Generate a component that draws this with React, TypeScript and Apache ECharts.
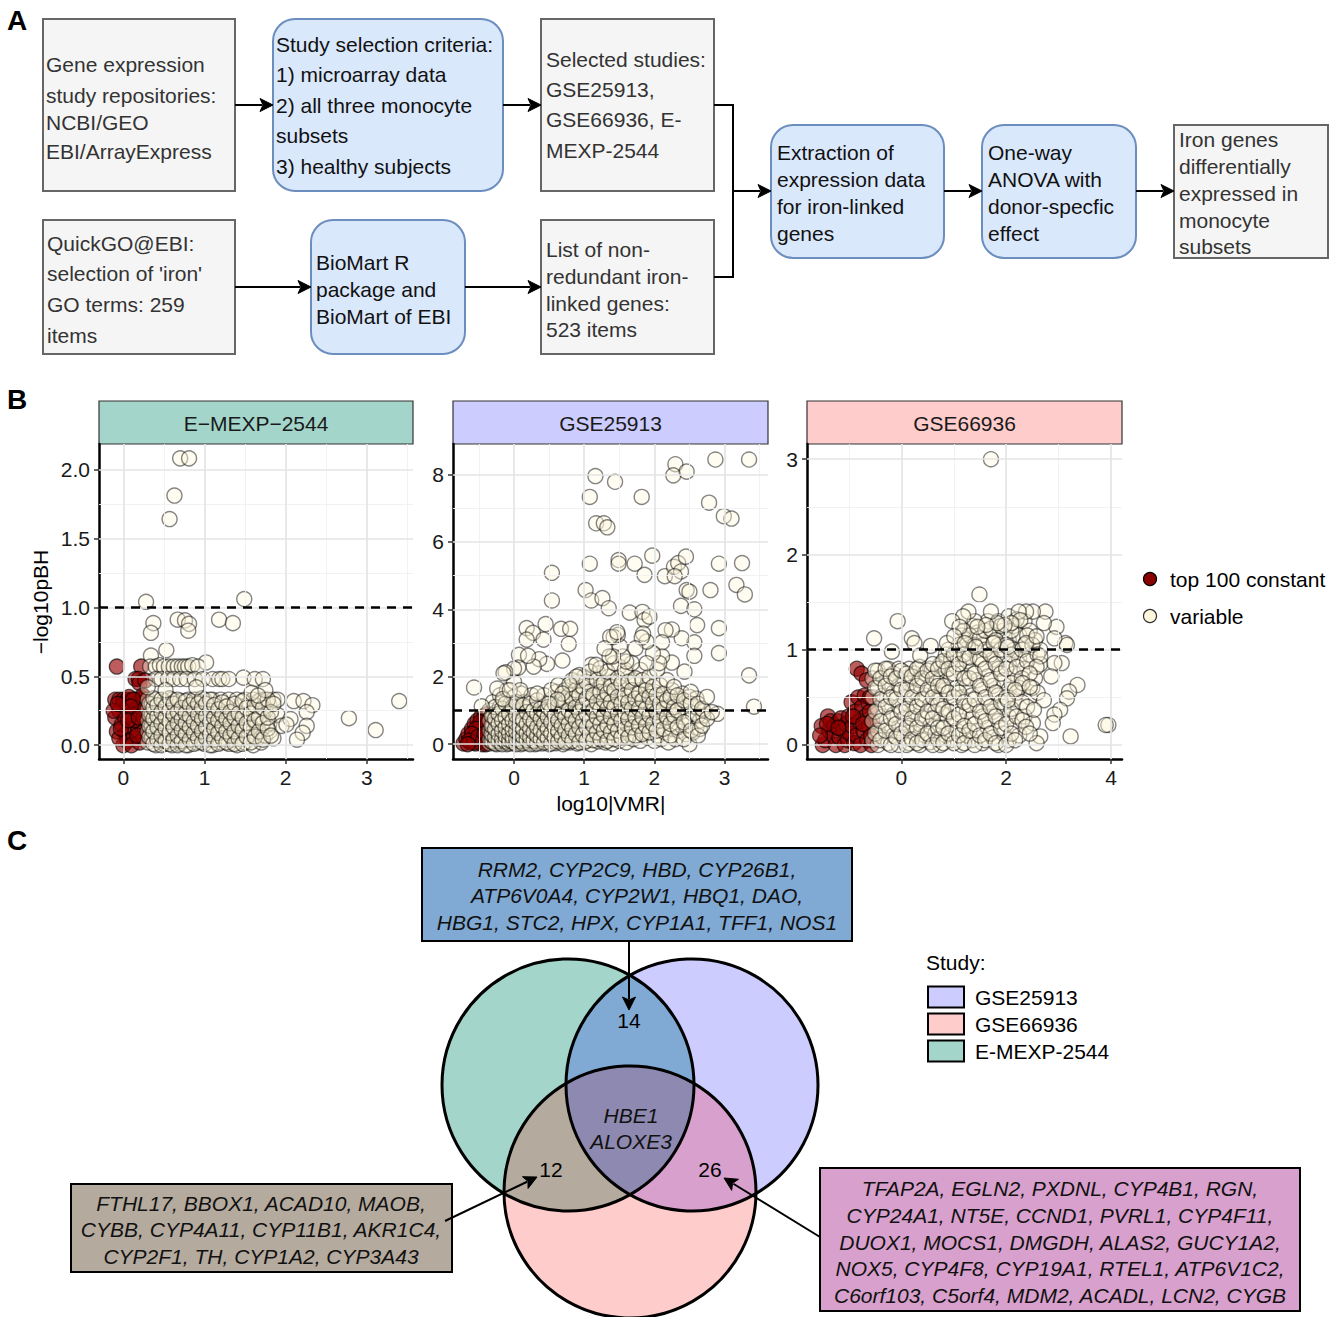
import React, { useEffect, useRef } from "react";
import * as echarts from "echarts";

const FONT = '"Liberation Sans", Arial, Helvetica, sans-serif';
const FS = 21;

// ---------------- Panel B data ----------------
// E-MEXP-2544
const emexpConstant: number[][] = [
  [-0.08, 0.57], [0.22, 0.57], [0.15, 0.48], [0.19, 0.48], [0.2, 0.45], [0.27, 0.47],
  [-0.1, 0.33], [-0.05, 0.33], [0, 0.33], [0.05, 0.33], [0.1, 0.33], [0.15, 0.33], [0.2, 0.33], [0.24, 0.34],
  [-0.1, 0.2], [-0.05, 0.25], [0, 0.3], [0.05, 0.27], [0.1, 0.22], [0.15, 0.3], [0.2, 0.25],
  [-0.08, 0.1], [-0.02, 0.15], [0.03, 0.08], [0.08, 0.12], [0.12, 0.05], [0.18, 0.1], [0.22, 0.15],
  [0.0, 0.0], [0.05, 0.03], [0.1, 0.0], [0.2, 0.02], [0.25, 0.05], [-0.05, 0.05], [0.14, 0.18],
  [0.23, 0.3], [0.07, 0.35], [0.24, 0.36], [0.02, 0.2], [0.17, 0.07], [0.25, 0.2], [-0.12, 0.25],
  [0.12, 0.33], [0.09, 0.28], [-0.03, 0.12], [0.06, 0.18], [0.19, 0.2], [-0.07, 0.3],
];
const emexpVariableCols: [number, number[]][] = [
  [0.3, [0.02, 0.1, 0.18, 0.26, 0.33]], [0.35, [0.05, 0.14, 0.22, 0.3]],
  [0.4, [0.0, 0.08, 0.17, 0.25, 0.33]], [0.45, [0.03, 0.12, 0.2, 0.28]],
  [0.5, [0.01, 0.09, 0.16, 0.24, 0.32]], [0.55, [0.05, 0.13, 0.21, 0.3]],
  [0.6, [0.0, 0.08, 0.18, 0.26, 0.33]], [0.65, [0.03, 0.11, 0.2, 0.28]],
  [0.7, [0.01, 0.07, 0.15, 0.23, 0.32]], [0.75, [0.04, 0.12, 0.19, 0.27]],
  [0.8, [0.0, 0.09, 0.17, 0.25, 0.33]], [0.85, [0.05, 0.13, 0.22, 0.3]],
  [0.9, [0.02, 0.1, 0.18, 0.27, 0.33]], [0.95, [0.06, 0.14, 0.23, 0.31]],
  [1.0, [0.01, 0.09, 0.17, 0.26, 0.33]], [1.05, [0.04, 0.12, 0.2, 0.29]],
  [1.1, [0.0, 0.08, 0.16, 0.25, 0.33]], [1.15, [0.05, 0.13, 0.22, 0.3]],
  [1.2, [0.02, 0.1, 0.19, 0.27, 0.33]], [1.25, [0.06, 0.15, 0.24]],
  [1.3, [0.01, 0.11, 0.2, 0.29, 0.33]], [1.35, [0.04, 0.14, 0.25]],
  [1.4, [0.0, 0.09, 0.18, 0.33]], [1.45, [0.06, 0.16, 0.28]],
  [1.5, [0.02, 0.12, 0.22, 0.33]], [1.55, [0.08, 0.19, 0.3]],
  [1.6, [0.0, 0.1, 0.24, 0.33]], [1.65, [0.05, 0.15, 0.28]],
  [1.7, [0.02, 0.12, 0.21, 0.33]], [1.75, [0.07, 0.25, 0.33]],
  [1.8, [0.1, 0.16, 0.29]], [1.85, [0.05, 0.33]], [1.9, [0.22, 0.33]], [1.95, [0.14]],
];
const emexpVariableCols2: [number, number[]][] = [
  [0.32, [0.06, 0.14, 0.22, 0.3]], [0.37, [0.01, 0.1, 0.19, 0.27, 0.34]], [0.42, [0.04, 0.13, 0.21, 0.29]],
  [0.47, [0.0, 0.07, 0.16, 0.24, 0.33]], [0.52, [0.03, 0.12, 0.2, 0.28]], [0.57, [0.01, 0.09, 0.17, 0.25, 0.34]],
  [0.62, [0.04, 0.13, 0.22, 0.3]], [0.67, [0.0, 0.07, 0.16, 0.24, 0.33]], [0.72, [0.03, 0.11, 0.19, 0.27]],
  [0.77, [0.0, 0.08, 0.16, 0.23, 0.32]], [0.82, [0.04, 0.13, 0.21, 0.29]], [0.87, [0.01, 0.09, 0.17, 0.26, 0.33]],
  [0.92, [0.05, 0.14, 0.22, 0.3]], [0.97, [0.02, 0.1, 0.19, 0.27, 0.34]], [1.02, [0.05, 0.13, 0.21, 0.3]],
  [1.07, [0.0, 0.08, 0.17, 0.25, 0.33]], [1.12, [0.04, 0.12, 0.2, 0.29]], [1.17, [0.01, 0.09, 0.18, 0.26]],
  [1.22, [0.05, 0.14, 0.22, 0.31]], [1.27, [0.02, 0.1, 0.19, 0.28]], [1.32, [0.07, 0.16, 0.24]],
  [1.37, [0.01, 0.1, 0.2, 0.3]], [1.42, [0.05, 0.14, 0.23]], [1.47, [0.01, 0.11, 0.2, 0.32]],
  [1.52, [0.06, 0.16, 0.27]], [1.57, [0.02, 0.13, 0.23]], [1.62, [0.06, 0.18, 0.29]],
  [1.67, [0.1, 0.2, 0.32]], [1.72, [0.04, 0.16, 0.27]], [1.78, [0.12, 0.2, 0.33]], [1.82, [0.07, 0.24]],
];
const emexpVariableExtra: number[][] = [
  [0.7, 2.08], [0.81, 2.08], [0.63, 1.81], [0.57, 1.64], [0.28, 1.04], [1.49, 1.06],
  [0.37, 0.885], [0.34, 0.815], [0.67, 0.91], [0.76, 0.905], [0.81, 0.88], [0.8, 0.83],
  [1.18, 0.91], [1.35, 0.885], [0.34, 0.65], [0.53, 0.69], [1.02, 0.6],
  [2.78, 0.196], [3.11, 0.11], [3.4, 0.32], [2.1, 0.32], [2.22, 0.32], [2.33, 0.29],
  [2.26, 0.24], [2.06, 0.19], [2.01, 0.15], [2.26, 0.14], [2.21, 0.09], [2.14, 0.04],
  [0.33, 0.57], [0.4, 0.57], [0.45, 0.58], [0.5, 0.57], [0.56, 0.57], [0.62, 0.57],
  [0.67, 0.57], [0.72, 0.57], [0.76, 0.57], [0.8, 0.57], [0.85, 0.58], [0.92, 0.57],
  [0.4, 0.48], [0.47, 0.48], [0.55, 0.48], [0.62, 0.48], [0.7, 0.48], [0.78, 0.48],
  [0.88, 0.48], [0.98, 0.48], [1.1, 0.48], [1.18, 0.48], [1.22, 0.48], [1.3, 0.48],
  [1.48, 0.49], [1.62, 0.48], [1.72, 0.48],
  [0.3, 0.42], [0.52, 0.4], [0.9, 0.42], [1.58, 0.38], [1.75, 0.4], [1.66, 0.36], [1.85, 0.3],
];

// GSE25913
const gse25913Constant: number[][] = [
  [-0.72, 0.02], [-0.68, 0.15], [-0.65, 0.3], [-0.62, 0.05], [-0.6, 0.45], [-0.58, 0.2],
  [-0.56, 0.6], [-0.55, 0.02], [-0.53, 0.35], [-0.52, 0.7], [-0.5, 0.1], [-0.49, 0.5],
  [-0.47, 0.8], [-0.46, 0.25], [-0.45, 0.0], [-0.44, 0.62], [-0.43, 0.4], [-0.42, 0.85],
  [-0.41, 0.15], [-0.4, 0.7], [-0.39, 0.05], [-0.39, 0.5], [-0.38, 0.9], [-0.37, 0.3],
  [-0.48, 0.65], [-0.54, 0.45], [-0.6, 0.3], [-0.64, 0.1], [-0.57, 0.05], [-0.51, 0.22],
  [-0.44, 0.12], [-0.42, 0.32], [-0.38, 0.62], [-0.4, 0.0], [-0.66, 0.0],
];
const gse25913VariableCols: [number, number[]][] = [
  [-0.35, [0.02, 0.15, 0.4, 0.7, 1.0]], [-0.3, [0.05, 0.25, 0.55, 0.85, 1.25]],
  [-0.25, [0.0, 0.12, 0.35, 0.6, 0.95]], [-0.2, [0.03, 0.2, 0.45, 0.75, 1.1, 1.45]],
  [-0.15, [0.08, 0.28, 0.55, 0.9, 1.3]], [-0.1, [0.0, 0.15, 0.38, 0.65, 1.0, 1.6]],
  [-0.05, [0.05, 0.22, 0.48, 0.8, 1.2]], [0.0, [0.02, 0.12, 0.32, 0.58, 0.95, 1.4, 1.85]],
  [0.05, [0.06, 0.25, 0.45, 0.72, 1.1]], [0.1, [0.0, 0.15, 0.38, 0.62, 1.0, 1.5]],
  [0.15, [0.08, 0.28, 0.52, 0.85, 1.25]], [0.2, [0.03, 0.18, 0.4, 0.7, 1.1]],
  [0.25, [0.1, 0.3, 0.58, 0.95, 1.45]], [0.3, [0.0, 0.2, 0.45, 0.8]],
  [0.35, [0.08, 0.32, 0.65, 1.1]], [0.4, [0.02, 0.22, 0.5, 0.85]],
  [0.45, [0.12, 0.38, 0.7, 1.2]], [0.5, [0.0, 0.25, 0.55, 0.9]],
  [0.55, [0.1, 0.4, 0.75, 1.35]], [0.6, [0.03, 0.28, 0.6, 1.0, 1.55]],
  [0.65, [0.15, 0.45, 0.8]], [0.7, [0.0, 0.3, 0.65, 1.1, 1.4]],
  [0.75, [0.1, 0.5, 0.9, 1.25]], [0.8, [0.05, 0.35, 0.75, 1.2, 1.7]],
  [0.85, [0.2, 0.55, 0.95, 1.5]], [0.9, [0.02, 0.4, 0.8, 1.3, 1.85]],
  [0.95, [0.15, 0.6, 1.05]], [1.0, [0.05, 0.35, 0.75, 1.2, 1.6, 2.0]],
  [1.05, [0.2, 0.55, 0.95, 1.4]], [1.1, [0.0, 0.4, 0.85, 1.3, 1.8, 2.35]],
  [1.15, [0.25, 0.65, 1.1, 1.6]], [1.2, [0.08, 0.5, 0.95, 1.45, 2.1]],
  [1.25, [0.3, 0.75, 1.25, 1.75]], [1.3, [0.05, 0.45, 0.9, 1.55]],
  [1.35, [0.2, 0.65, 1.15, 2.0]], [1.4, [0.02, 0.5, 1.0, 1.4, 1.85]],
  [1.45, [0.3, 0.8, 1.25]], [1.5, [0.1, 0.55, 1.05, 1.7, 2.3]],
  [1.55, [0.35, 0.85, 1.35]], [1.6, [0.05, 0.6, 1.15, 1.6, 2.1]],
  [1.65, [0.3, 0.9, 1.45]], [1.7, [0.15, 0.7, 1.25, 1.9]],
  [1.75, [0.45, 1.0]], [1.8, [0.1, 0.6, 1.1, 1.6, 2.2]],
  [1.85, [0.35, 0.85, 1.35]], [1.9, [0.2, 0.7, 1.2, 1.75]],
  [1.95, [0.5, 1.0, 1.5]], [2.0, [0.1, 0.65, 1.1, 1.55]],
  [2.05, [0.25, 0.8, 1.3]], [2.1, [0.15, 0.55, 1.0, 1.45]],
  [2.15, [0.35, 0.9, 1.25]], [2.2, [0.05, 0.7, 1.1]],
  [2.25, [0.45, 0.95, 1.6]], [2.3, [0.15, 0.65, 1.2]],
  [2.35, [0.4, 0.9, 1.35]], [2.4, [0.8, 1.1, 1.5]],
  [2.45, [0.3, 0.55, 1.25]], [2.5, [0.0, 0.7, 1.4]],
  [2.55, [0.35, 0.9]], [2.6, [0.5, 1.1, 1.35]], [2.65, [0.7, 0.45]], [2.7, [0.85, 1.0]], [2.9, [0.9]],
];
const gse25913VariableCols2: [number, number[]][] = [
  [-0.32, [0.08, 0.3, 0.55, 0.85]], [-0.27, [0.02, 0.2, 0.45, 0.75, 1.1]], [-0.22, [0.1, 0.3, 0.6, 0.9]],
  [-0.17, [0.0, 0.15, 0.4, 0.7, 1.05]], [-0.12, [0.08, 0.25, 0.5, 0.8, 1.2]], [-0.07, [0.02, 0.12, 0.32, 0.6, 0.9]],
  [-0.02, [0.07, 0.2, 0.42, 0.7, 1.1]], [0.03, [0.0, 0.15, 0.38, 0.62, 0.85, 1.25]], [0.08, [0.1, 0.3, 0.55, 0.8]],
  [0.13, [0.03, 0.22, 0.45, 0.72, 1.15]], [0.18, [0.12, 0.32, 0.6, 0.95]], [0.23, [0.0, 0.2, 0.45, 0.75, 1.2]],
  [0.28, [0.1, 0.35, 0.65, 1.0]], [0.33, [0.02, 0.25, 0.5, 0.9, 1.3]], [0.38, [0.15, 0.4, 0.75, 1.05]],
  [0.43, [0.05, 0.3, 0.6, 0.95, 1.45]], [0.48, [0.18, 0.45, 0.8, 1.1]], [0.53, [0.02, 0.32, 0.65, 1.0, 1.6]],
  [0.58, [0.2, 0.5, 0.85, 1.2]], [0.63, [0.08, 0.38, 0.7, 1.15, 1.75]], [0.68, [0.22, 0.55, 0.95, 1.3]],
  [0.73, [0.05, 0.4, 0.8, 1.25, 1.6]], [0.78, [0.25, 0.6, 1.0, 1.45]], [0.83, [0.1, 0.45, 0.85, 1.35, 1.9]],
  [0.88, [0.3, 0.7, 1.1, 1.6]], [0.93, [0.05, 0.5, 0.95, 1.45, 2.05]], [0.98, [0.28, 0.7, 1.15, 1.7]],
  [1.03, [0.1, 0.5, 0.9, 1.35, 1.85]], [1.08, [0.3, 0.7, 1.1, 1.55, 2.15]], [1.13, [0.12, 0.55, 1.0, 1.45]],
  [1.18, [0.35, 0.8, 1.25, 1.9]], [1.23, [0.15, 0.6, 1.05, 1.55, 2.25]], [1.28, [0.4, 0.85, 1.3, 1.8]],
  [1.33, [0.1, 0.55, 1.05, 1.5, 2.15]], [1.38, [0.35, 0.8, 1.25, 1.7]], [1.43, [0.15, 0.6, 1.1, 1.6, 2.4]],
  [1.48, [0.4, 0.9, 1.4, 1.95]], [1.53, [0.2, 0.7, 1.2, 1.8]], [1.58, [0.45, 0.95, 1.45, 2.2]],
  [1.63, [0.2, 0.75, 1.25, 1.85]], [1.68, [0.5, 1.05, 1.6, 2.4]], [1.73, [0.25, 0.8, 1.35, 1.95]],
  [1.78, [0.55, 1.05, 1.5]], [1.83, [0.3, 0.8, 1.3, 1.9]], [1.88, [0.55, 1.05, 1.6]],
  [1.93, [0.35, 0.85, 1.4, 2.0]], [1.98, [0.6, 1.2, 1.7]], [2.03, [0.4, 0.95, 1.45]],
  [2.08, [0.7, 1.2, 1.75]], [2.13, [0.45, 1.05, 1.5]], [2.18, [0.8, 1.3, 1.9]],
  [2.23, [0.25, 0.6, 1.4]], [2.28, [0.85, 1.1, 1.7]], [2.33, [0.5, 1.0, 1.45]],
  [2.42, [0.15, 0.65, 1.3]], [2.52, [0.4, 1.2, 1.55]], [2.62, [0.25, 0.85, 1.2]],
  [2.68, [0.55, 1.05]], [2.75, [0.75, 1.4]], [2.82, [0.95]],
];
const gse25913VariableExtra: number[][] = [
  [3.35, 8.44], [2.87, 8.44], [2.3, 8.3], [2.27, 7.97], [2.46, 8.08], [1.16, 7.95], [1.44, 7.78],
  [1.08, 7.33], [1.82, 7.33], [2.78, 7.16], [2.99, 6.76], [3.1, 6.69], [1.17, 6.55], [1.28, 6.55],
  [1.33, 6.43], [1.08, 5.35], [1.49, 5.46], [1.49, 5.35], [1.72, 5.35], [1.97, 5.59], [1.86, 5.02],
  [2.15, 4.98], [2.28, 5.26], [2.34, 5.37], [2.38, 5.12], [2.45, 5.56], [2.29, 4.98], [2.92, 5.35],
  [3.25, 5.37], [0.54, 5.08], [0.54, 4.26], [1.02, 4.57], [1.1, 4.26], [1.26, 4.33], [1.35, 4.03],
  [1.65, 3.9], [1.83, 3.92], [1.86, 3.68], [1.93, 3.78], [2.46, 4.57], [2.5, 4.52], [2.38, 4.1],
  [2.57, 4.0], [2.8, 4.57], [3.17, 4.72], [3.29, 4.44], [2.61, 3.53], [2.92, 3.44], [2.92, 2.7],
  [3.35, 2.04], [3.42, 1.11], [2.57, 3.02], [2.57, 2.62], [2.43, 2.15], [2.39, 3.14], [2.25, 3.4],
  [2.25, 2.42], [2.16, 3.38], [2.11, 3.02], [2.11, 2.6], [2.04, 2.21], [2.07, 2.4], [1.98, 2.7],
  [1.89, 2.4], [1.89, 3.04], [1.84, 3.28], [1.82, 3.16], [1.73, 2.84], [1.6, 2.45], [1.55, 2.6],
  [1.51, 2.9], [1.48, 3.24], [1.42, 3.18], [1.37, 3.18], [1.47, 3.32], [1.41, 2.6], [1.36, 2.6],
  [1.29, 2.84], [1.17, 2.35], [0.89, 2.0], [0.79, 1.77], [0.69, 1.5], [0.62, 1.32],
  [0.18, 3.44], [0.27, 3.3], [0.45, 3.56], [0.42, 3.1], [0.67, 3.42], [0.8, 3.42], [0.78, 2.97],
  [0.69, 2.48], [0.47, 2.38], [0.36, 2.52], [0.28, 2.3], [0.18, 3.1], [0.07, 2.65], [0.06, 2.27],
  [0.0, 2.24], [0.2, 2.62], [-0.12, 2.13], [-0.15, 2.1], [-0.24, 1.65], [-0.16, 1.34], [-0.06, 1.6],
  [0.09, 1.6], [0.33, 1.5], [0.5, 1.2], [-0.57, 1.68], [-0.46, 1.12],
];

// GSE66936
const gse66936Constant: number[][] = [
  [-1.52, 0.2], [-1.5, 0.0], [-1.45, 0.05], [-1.4, 0.3], [-1.38, 0.15], [-1.35, 0.25], [-1.3, 0.1],
  [-1.28, 0.2], [-1.25, 0.0], [-1.2, 0.25], [-1.18, 0.08], [-1.15, 0.28], [-1.1, 0.15], [-1.08, 0.0],
  [-1.05, 0.22], [-1.02, 0.05], [-1.0, 0.3], [-0.98, 0.12], [-0.95, 0.45], [-0.93, 0.2], [-0.9, 0.02],
  [-0.88, 0.35], [-0.85, 0.8], [-0.85, 0.1], [-0.82, 0.5], [-0.8, 0.25], [-0.78, 0.0], [-0.76, 0.75],
  [-0.75, 0.4], [-0.72, 0.15], [-0.7, 0.52], [-0.68, 0.3], [-0.66, 0.68], [-0.65, 0.05], [-0.63, 0.45],
  [-0.62, 0.2], [-0.6, 0.35], [-0.6, 0.5], [-0.58, 0.1], [-0.57, 0.0], [-0.56, 0.25], [-1.42, 0.22],
  [-1.2, 0.18], [-0.92, 0.3], [-0.73, 0.22], [-1.55, 0.1],
];
const gse66936VariableCols: [number, number[]][] = [
  [-0.55, [0.05, 0.25, 0.5, 0.7]], [-0.45, [0.0, 0.15, 0.38, 0.6, 0.78]],
  [-0.35, [0.08, 0.3, 0.52, 0.72]], [-0.25, [0.02, 0.2, 0.42, 0.65, 0.8]],
  [-0.15, [0.1, 0.32, 0.55, 0.75]], [-0.05, [0.0, 0.18, 0.4, 0.62, 0.8]],
  [0.05, [0.08, 0.28, 0.5, 0.7]], [0.15, [0.02, 0.2, 0.42, 0.65, 0.8]],
  [0.25, [0.12, 0.35, 0.55, 0.75]], [0.35, [0.0, 0.22, 0.45, 0.68, 0.82]],
  [0.45, [0.1, 0.3, 0.52, 0.75]], [0.55, [0.03, 0.2, 0.42, 0.62, 0.8]],
  [0.65, [0.12, 0.35, 0.55, 0.72]], [0.75, [0.0, 0.25, 0.48, 0.68, 0.85]],
  [0.85, [0.1, 0.32, 0.58, 0.78, 0.95]], [0.95, [0.05, 0.22, 0.45, 0.7, 0.9]],
  [1.05, [0.15, 0.38, 0.6, 0.82, 1.0]], [1.15, [0.0, 0.25, 0.5, 0.75, 0.95, 1.15]],
  [1.25, [0.1, 0.35, 0.62, 0.88, 1.1]], [1.35, [0.05, 0.28, 0.52, 0.78, 1.0, 1.25]],
  [1.45, [0.15, 0.42, 0.68, 0.92, 1.18]], [1.55, [0.02, 0.3, 0.58, 0.85, 1.05]],
  [1.65, [0.18, 0.45, 0.72, 0.98, 1.3]], [1.75, [0.08, 0.35, 0.62, 0.9, 1.15]],
  [1.85, [0.0, 0.25, 0.52, 0.8, 1.05, 1.3]], [1.95, [0.12, 0.4, 0.68, 0.95, 1.2]],
  [2.05, [0.05, 0.3, 0.58, 0.85, 1.1, 1.35]], [2.15, [0.2, 0.48, 0.75, 1.0, 1.25]],
  [2.25, [0.1, 0.6, 0.9, 1.15]], [2.35, [0.3, 0.8, 1.05, 1.3]],
  [2.45, [0.5, 0.95, 1.2]], [2.55, [0.7, 1.1]], [2.65, [0.85, 1.0]],
];
const gse66936VariableCols2: [number, number[]][] = [
  [-0.5, [0.12, 0.35, 0.6, 0.78]], [-0.4, [0.05, 0.25, 0.48, 0.7]], [-0.3, [0.15, 0.4, 0.62, 0.8]],
  [-0.2, [0.0, 0.28, 0.5, 0.72]], [-0.1, [0.08, 0.22, 0.48, 0.7]], [0.0, [0.12, 0.35, 0.58, 0.78]],
  [0.1, [0.0, 0.18, 0.38, 0.58, 0.75]], [0.2, [0.06, 0.28, 0.5, 0.72]], [0.3, [0.02, 0.18, 0.4, 0.62, 0.8]],
  [0.4, [0.05, 0.28, 0.48, 0.7]], [0.5, [0.12, 0.35, 0.58, 0.78]], [0.6, [0.0, 0.28, 0.5, 0.7, 0.85]],
  [0.7, [0.06, 0.18, 0.42, 0.62, 0.8]], [0.8, [0.02, 0.18, 0.38, 0.62, 0.88]], [0.9, [0.12, 0.35, 0.55, 0.8, 1.0]],
  [1.0, [0.02, 0.28, 0.5, 0.75, 0.95]], [1.1, [0.1, 0.32, 0.55, 0.85, 1.05]], [1.2, [0.02, 0.2, 0.45, 0.7, 0.95, 1.2]],
  [1.3, [0.15, 0.42, 0.7, 0.92, 1.15]], [1.4, [0.0, 0.22, 0.48, 0.75, 1.05, 1.3]], [1.5, [0.1, 0.35, 0.62, 0.9, 1.12]],
  [1.6, [0.05, 0.25, 0.5, 0.8, 1.0, 1.2]], [1.7, [0.12, 0.4, 0.68, 0.95, 1.22]], [1.8, [0.02, 0.3, 0.55, 0.85, 1.1]],
  [1.9, [0.18, 0.45, 0.75, 1.0, 1.25]], [2.0, [0.0, 0.22, 0.5, 0.8, 1.05]], [2.1, [0.12, 0.38, 0.65, 0.95, 1.2]],
  [2.2, [0.3, 0.55, 0.82, 1.32]], [2.3, [0.45, 0.7, 1.0]], [2.4, [0.4, 0.88, 1.15]], [2.5, [0.6, 1.05]], [2.6, [0.55, 0.95]],
];
const gse66936VariableExtra: number[][] = [
  [1.71, 3.0], [1.49, 1.58], [-0.07, 1.3], [-0.52, 1.12], [-0.18, 0.98], [0.2, 1.12], [0.25, 1.07],
  [0.56, 1.04], [0.36, 0.94], [3.95, 0.21], [3.9, 0.21], [3.23, 0.09], [3.36, 0.63], [3.2, 0.56],
  [3.16, 0.49], [3.03, 0.37], [2.92, 0.32], [2.89, 0.23], [2.72, 0.47], [2.65, 0.09], [2.58, 0.02],
  [2.51, 0.23], [2.53, 0.37], [3.06, 0.86], [2.92, 0.86], [2.86, 0.72], [2.96, 1.24], [3.13, 1.07],
  [3.16, 1.05], [2.92, 1.12], [2.75, 1.4], [2.72, 1.28], [2.51, 1.4], [2.38, 1.4], [2.24, 1.4],
  [2.27, 1.31], [2.1, 1.28], [1.97, 1.26], [1.83, 1.28], [1.71, 1.4], [1.62, 1.26], [1.45, 1.24],
  [1.28, 1.4], [1.18, 1.35], [0.97, 1.3], [1.11, 1.24], [0.87, 1.07], [1.01, 1.14], [1.21, 1.07],
  [1.42, 1.03], [1.76, 1.07], [2.03, 1.03], [2.38, 1.07], [2.58, 1.14], [2.65, 0.93], [2.58, 0.82],
  [2.45, 0.75], [2.31, 0.65], [2.17, 0.58], [2.45, 0.61], [2.03, 0.47], [2.31, 0.26], [2.38, 0.19],
  [2.45, 0.12], [2.17, 0.05],
];

const panelTitles = ["E\u2212MEXP\u22122544", "GSE25913", "GSE66936"];
const panelColors = ["#a3d5cb", "#ccccff", "#ffcccc"];
const xRanges = [[-0.3, 3.57], [-0.87, 3.62], [-1.8, 4.21]];
const yRanges = [[-0.1, 2.184], [-0.44, 8.9], [-0.147, 3.16]];
const xMajor = [[0, 1, 2, 3], [0, 1, 2, 3], [0, 2, 4]];
const xMinor = [[0.5, 1.5, 2.5, 3.5], [-0.5, 0.5, 1.5, 2.5, 3.5], [-1, 1, 3]];
const yMajor = [[0, 0.5, 1, 1.5, 2], [0, 2, 4, 6, 8], [0, 1, 2, 3]];
const yMinor = [[0.25, 0.75, 1.25, 1.75], [1, 3, 5, 7], [0.5, 1.5, 2.5]];
const thresholdY = 1;
const legendLabels = ["top 100 constant", "variable"];

// ---------------- Panel A text ----------------
const flowGray1 = ["Gene expression", "study repositories:", "NCBI/GEO", "EBI/ArrayExpress"];
const flowBlue1 = ["Study selection criteria:", "1) microarray data", "2) all three monocyte", "subsets", "3) healthy subjects"];
const flowGray2 = ["Selected studies:", "GSE25913,", "GSE66936, E-", "MEXP-2544"];
const flowGray3 = ["QuickGO@EBI:", "selection of 'iron'", "GO terms: 259", "items"];
const flowBlue2 = ["BioMart R", "package and", "BioMart of EBI"];
const flowGray4 = ["List of non-", "redundant iron-", "linked genes:", "523 items"];
const flowBlue3 = ["Extraction of", "expression data", "for iron-linked", "genes"];
const flowBlue4 = ["One-way", "ANOVA with", "donor-specfic", "effect"];
const flowGray5 = ["Iron genes", "differentially", "expressed in", "monocyte", "subsets"];

// ---------------- Panel C ----------------
const vennCountTP = "14";
const vennCountTK = "12";
const vennCountPK = "26";
const vennTriple = ["HBE1", "ALOXE3"];
const genesTP = ["RRM2, CYP2C9, HBD, CYP26B1,", "ATP6V0A4, CYP2W1, HBQ1, DAO,", "HBG1, STC2, HPX, CYP1A1, TFF1, NOS1"];
const genesTK = ["FTHL17, BBOX1, ACAD10, MAOB,", "CYBB, CYP4A11, CYP11B1, AKR1C4,", "CYP2F1, TH, CYP1A2, CYP3A43"];
const genesPK = [
  "TFAP2A, EGLN2, PXDNL, CYP4B1, RGN,",
  "CYP24A1, NT5E, CCND1, PVRL1, CYP4F11,",
  "DUOX1, MOCS1, DMGDH, ALAS2, GUCY1A2,",
  "NOX5, CYP4F8, CYP19A1, RTEL1, ATP6V1C2,",
  "C6orf103, C5orf4, MDM2, ACADL, LCN2, CYGB",
];
const studyLegend = ["GSE25913", "GSE66936", "E-MEXP-2544"];
const studyColors = ["#ccccff", "#ffcccc", "#a3d5cb"];

function flat(colsList: [number, number[]][][], extra: number[][]) {
  const out: number[][] = [];
  for (const cols of colsList) for (const [x, ys] of cols) for (const y of ys) out.push([x, y]);
  return out.concat(extra);
}

function arrowHead(x1: number, y1: number, x2: number, y2: number, len = 13, hw = 6.5) {
  const dx = x2 - x1, dy = y2 - y1;
  const L = Math.hypot(dx, dy);
  const ux = dx / L, uy = dy / L;
  const bx = x2 - ux * len, by = y2 - uy * len;
  return [
    { type: "line", shape: { x1, y1, x2: bx + ux * 2, y2: by + uy * 2 }, style: { stroke: "#000", lineWidth: 2 } },
    {
      type: "polygon",
      shape: { points: [[x2, y2], [bx - uy * hw, by + ux * hw], [bx + ux * 3, by + uy * 3], [bx + uy * hw, by - ux * hw]] },
      style: { fill: "#000", stroke: "#000", lineWidth: 1 },
    },
  ];
}

function textLines(lines: string[], x: number, ys: number[], opts: any = {}) {
  return lines.map((t, i) => ({
    type: "text",
    x,
    y: ys[i],
    style: {
      text: t,
      fontSize: opts.fontSize || FS,
      fontFamily: FONT,
      fontStyle: opts.fontStyle || "normal",
      fill: opts.fill || "#222",
      align: opts.align || "left",
      verticalAlign: "middle",
    },
  }));
}

function box(x: number, y: number, w: number, h: number, kind: "gray" | "blue") {
  return {
    type: "rect",
    shape: { x, y, width: w, height: h, r: kind === "blue" ? 22 : 0 },
    style: {
      fill: kind === "blue" ? "#dae8fc" : "#f5f5f5",
      stroke: kind === "blue" ? "#6c8ebf" : "#666666",
      lineWidth: 2,
    },
  };
}

// Venn geometry
const R = 126;
const cT = [568, 1085];
const cP = [692, 1085];
const cK = [630, 1192];
function inter(a: number[], b: number[]) {
  const dx = b[0] - a[0], dy = b[1] - a[1];
  const d = Math.hypot(dx, dy);
  const h = Math.sqrt(R * R - (d / 2) * (d / 2));
  const mx = (a[0] + b[0]) / 2, my = (a[1] + b[1]) / 2;
  const px = -dy / d, py = dx / d;
  return [[mx + px * h, my + py * h], [mx - px * h, my - py * h]];
}
function inside(p: number[], c: number[]) {
  return Math.hypot(p[0] - c[0], p[1] - c[1]) < R;
}
const fmt = (p: number[]) => `${p[0].toFixed(2)} ${p[1].toFixed(2)}`;
function lensPath(a: number[], b: number[]) {
  const [p1, p2] = inter(a, b);
  return `M${fmt(p1)} A${R} ${R} 0 0 1 ${fmt(p2)} A${R} ${R} 0 0 1 ${fmt(p1)} Z`;
}
function triplePath() {
  const A = inter(cP, cK).find((p) => inside(p, cT))!;
  const B = inter(cT, cK).find((p) => inside(p, cP))!;
  const C = inter(cT, cP).find((p) => inside(p, cK))!;
  return `M${fmt(A)} A${R} ${R} 0 0 1 ${fmt(B)} A${R} ${R} 0 0 1 ${fmt(C)} A${R} ${R} 0 0 1 ${fmt(A)} Z`;
}

export default function App() {
  const ref = useRef<HTMLDivElement>(null);
  useEffect(() => {
    document.body.style.margin = "0";
    echarts.graphic.registerShape("vennTP", echarts.graphic.extendPath(lensPath(cT, cP), {}) as any);
    echarts.graphic.registerShape("vennTK", echarts.graphic.extendPath(lensPath(cT, cK), {}) as any);
    echarts.graphic.registerShape("vennPK", echarts.graphic.extendPath(lensPath(cP, cK), {}) as any);
    echarts.graphic.registerShape("vennTPK", echarts.graphic.extendPath(triplePath(), {}) as any);

    const chart = echarts.init(ref.current!, undefined, { renderer: "svg" });

    const grids = [
      { left: 99, top: 444, width: 314, height: 315 },
      { left: 453, top: 444, width: 315, height: 315 },
      { left: 807, top: 444, width: 315, height: 315 },
    ];
    const constants = [emexpConstant, gse25913Constant, gse66936Constant];
    const variables = [
      flat([emexpVariableCols, emexpVariableCols2], emexpVariableExtra),
      flat([gse25913VariableCols, gse25913VariableCols2], gse25913VariableExtra),
      flat([gse66936VariableCols, gse66936VariableCols2], gse66936VariableExtra),
    ];

    const xAxis: any[] = [];
    const yAxis: any[] = [];
    const series: any[] = [];
    for (let i = 0; i < 3; i++) {
      xAxis.push({
        gridIndex: i,
        type: "value",
        min: xRanges[i][0],
        max: xRanges[i][1],
        axisLine: { show: true, onZero: false, lineStyle: { color: "#000", width: 2.5 } },
        axisTick: { show: true, length: 5, lineStyle: { color: "#333", width: 1.5 }, customValues: xMajor[i] },
        axisLabel: { customValues: xMajor[i], fontSize: FS, fontFamily: FONT, color: "#1a1a1a", margin: 8 },
        splitLine: { show: false },
      });
      yAxis.push({
        gridIndex: i,
        type: "value",
        min: yRanges[i][0],
        max: yRanges[i][1],
        axisLine: { show: true, onZero: false, lineStyle: { color: "#000", width: 2.5 } },
        axisTick: { show: true, length: 5, lineStyle: { color: "#333", width: 1.5 }, customValues: yMajor[i] },
        axisLabel: {
          customValues: yMajor[i],
          fontSize: FS,
          fontFamily: FONT,
          color: "#1a1a1a",
          margin: 9,
          formatter: i === 0 ? (v: number) => v.toFixed(1) : (v: number) => String(v),
        },
        splitLine: { show: false },
      });
      const gl: any[] = [];
      xMinor[i].forEach((v) => gl.push({ xAxis: v, lineStyle: { color: "#f0f0f0", width: 0.9, type: "solid" } }));
      yMinor[i].forEach((v) => gl.push({ yAxis: v, lineStyle: { color: "#f0f0f0", width: 0.9, type: "solid" } }));
      xMajor[i].forEach((v) => gl.push({ xAxis: v, lineStyle: { color: "#e4e4e4", width: 1.7, type: "solid" } }));
      yMajor[i].forEach((v) => gl.push({ yAxis: v, lineStyle: { color: "#e4e4e4", width: 1.7, type: "solid" } }));
      series.push({
        type: "scatter",
        xAxisIndex: i,
        yAxisIndex: i,
        data: [],
        z: 1,
        silent: true,
        markLine: { silent: true, symbol: ["none", "none"], label: { show: false }, data: gl },
      });
      series.push({
        type: "scatter",
        name: legendLabels[0],
        xAxisIndex: i,
        yAxisIndex: i,
        data: constants[i],
        symbolSize: 15,
        z: 2,
        itemStyle: { color: "rgba(150,0,0,0.8)", borderColor: "rgba(0,0,0,0.8)", borderWidth: 1.3 },
      });
      series.push({
        type: "scatter",
        name: legendLabels[1],
        xAxisIndex: i,
        yAxisIndex: i,
        data: variables[i],
        symbolSize: 15,
        z: 3,
        itemStyle: { color: "rgba(255,248,220,0.5)", borderColor: "rgba(0,0,0,0.6)", borderWidth: 1.4 },
      });
      series.push({
        type: "scatter",
        xAxisIndex: i,
        yAxisIndex: i,
        data: [],
        z: 4,
        silent: true,
        markLine: {
          silent: true,
          symbol: ["none", "none"],
          label: { show: false },
          data: [{ yAxis: thresholdY, lineStyle: { color: "#000", width: 2.5, type: [9, 7] } }],
        },
      });
    }

    const graphic: any[] = [];
    [["A", 20], ["B", 399], ["C", 840]].forEach(([t, y]) =>
      graphic.push({
        type: "text",
        x: 7,
        y: y as number,
        style: { text: t as string, fontSize: 28, fontWeight: "bold", fontFamily: FONT, fill: "#000", verticalAlign: "middle" },
      })
    );

    // ---------- Panel A ----------
    graphic.push(box(43, 19, 192, 172, "gray"));
    graphic.push(...textLines(flowGray1, 46, [64, 95, 122, 151], { fill: "#333" }));
    graphic.push(box(273, 19, 230, 172, "blue"));
    graphic.push(...textLines(flowBlue1, 276, [44, 74, 105, 135, 166], { fill: "#111" }));
    graphic.push(box(541, 19, 173, 172, "gray"));
    graphic.push(...textLines(flowGray2, 546, [59, 89, 119, 150], { fill: "#333" }));
    graphic.push(box(43, 220, 192, 134, "gray"));
    graphic.push(...textLines(flowGray3, 47, [243, 273, 304, 335], { fill: "#333" }));
    graphic.push(box(311, 220, 154, 134, "blue"));
    graphic.push(...textLines(flowBlue2, 316, [262, 289, 316], { fill: "#111" }));
    graphic.push(box(541, 220, 173, 134, "gray"));
    graphic.push(...textLines(flowGray4, 546, [249, 276, 303, 329], { fill: "#333" }));
    graphic.push(box(771, 125, 173, 133, "blue"));
    graphic.push(...textLines(flowBlue3, 777, [152, 179, 206, 233], { fill: "#111" }));
    graphic.push(box(982, 125, 154, 133, "blue"));
    graphic.push(...textLines(flowBlue4, 988, [152, 179, 206, 233], { fill: "#111" }));
    graphic.push(box(1174, 125, 154, 133, "gray"));
    graphic.push(...textLines(flowGray5, 1179, [139, 166, 193, 220, 246], { fill: "#333" }));
    graphic.push(...arrowHead(235, 105, 273, 105));
    graphic.push(...arrowHead(503, 105, 541, 105));
    graphic.push(...arrowHead(235, 287, 311, 287));
    graphic.push(...arrowHead(465, 287, 541, 287));
    graphic.push({
      type: "polyline",
      shape: { points: [[714, 105], [733, 105], [733, 277], [714, 277]] },
      style: { stroke: "#000", lineWidth: 2, fill: "none" },
    });
    graphic.push(...arrowHead(733, 191, 771, 191));
    graphic.push(...arrowHead(944, 191, 982, 191));
    graphic.push(...arrowHead(1136, 191, 1174, 191));

    // ---------- Panel B decorations ----------
    grids.forEach((g, i) => {
      graphic.push({
        type: "rect",
        shape: { x: g.left, y: 401, width: g.width, height: 43 },
        style: { fill: panelColors[i], stroke: "#333", lineWidth: 1.2 },
      });
      graphic.push({
        type: "text",
        x: g.left + g.width / 2,
        y: 423,
        style: { text: panelTitles[i], fontSize: FS, fontFamily: FONT, fill: "#1a1a1a", align: "center", verticalAlign: "middle" },
      });
    });
    graphic.push({
      type: "text",
      x: 40,
      y: 602,
      rotation: Math.PI / 2,
      style: { text: "\u2212log10pBH", fontSize: FS, fontFamily: FONT, fill: "#000", align: "center", verticalAlign: "middle" },
    });
    graphic.push({
      type: "text",
      x: 611,
      y: 803,
      style: { text: "log10|VMR|", fontSize: FS, fontFamily: FONT, fill: "#000", align: "center", verticalAlign: "middle" },
    });
    graphic.push({ type: "circle", shape: { cx: 1150, cy: 579, r: 6.5 }, style: { fill: "#8b0000", stroke: "#000", lineWidth: 1.2 } });
    graphic.push({ type: "circle", shape: { cx: 1150, cy: 616, r: 6.5 }, style: { fill: "#fff8dc", stroke: "#333", lineWidth: 1.2 } });
    graphic.push(...textLines(legendLabels, 1170, [579, 616], { fill: "#000" }));

    // ---------- Panel C ----------
    graphic.push({ type: "circle", shape: { cx: cT[0], cy: cT[1], r: R }, style: { fill: "#a3d5cb" } });
    graphic.push({ type: "circle", shape: { cx: cP[0], cy: cP[1], r: R }, style: { fill: "#ccccff" } });
    graphic.push({ type: "circle", shape: { cx: cK[0], cy: cK[1], r: R }, style: { fill: "#ffcccc" } });
    graphic.push({ type: "vennTP", x: 0, y: 0, style: { fill: "#80aad4", stroke: "none" } });
    graphic.push({ type: "vennTK", x: 0, y: 0, style: { fill: "#b5aa9e", stroke: "none" } });
    graphic.push({ type: "vennPK", x: 0, y: 0, style: { fill: "#d8a0cc", stroke: "none" } });
    graphic.push({ type: "vennTPK", x: 0, y: 0, style: { fill: "#8e89b0", stroke: "none" } });
    [cT, cP, cK].forEach((c) =>
      graphic.push({ type: "circle", shape: { cx: c[0], cy: c[1], r: R }, style: { fill: "none", stroke: "#000", lineWidth: 3 } })
    );
    graphic.push(...textLines([vennCountTP], 629, [1020], { align: "center", fill: "#000" }));
    graphic.push(...textLines([vennCountTK], 551, [1169], { align: "center", fill: "#000" }));
    graphic.push(...textLines([vennCountPK], 710, [1169], { align: "center", fill: "#000" }));
    graphic.push(...textLines(vennTriple, 631, [1115, 1141], { align: "center", fill: "#111", fontStyle: "italic" }));

    // gene boxes
    graphic.push({ type: "rect", shape: { x: 422, y: 848, width: 430, height: 93 }, style: { fill: "#80aad4", stroke: "#000", lineWidth: 2 } });
    graphic.push(...textLines(genesTP, 637, [869, 895, 922], { align: "center", fill: "#111", fontStyle: "italic", fontSize: 21 }));
    graphic.push(...arrowHead(629, 941, 629, 1010));
    graphic.push({ type: "rect", shape: { x: 71, y: 1184, width: 381, height: 88 }, style: { fill: "#b5aa9e", stroke: "#000", lineWidth: 2 } });
    graphic.push(...textLines(genesTK, 261, [1203, 1229, 1256], { align: "center", fill: "#111", fontStyle: "italic", fontSize: 21 }));
    graphic.push(...arrowHead(445, 1221, 537, 1177));
    graphic.push({ type: "rect", shape: { x: 820, y: 1168, width: 480, height: 143 }, style: { fill: "#d8a0cc", stroke: "#000", lineWidth: 2 } });
    graphic.push(...textLines(genesPK, 1060, [1188, 1215, 1242, 1268, 1295], { align: "center", fill: "#111", fontStyle: "italic", fontSize: 21 }));
    graphic.push(...arrowHead(820, 1237, 724, 1178));

    // study legend
    graphic.push(...textLines(["Study:"], 926, [962], { fill: "#000" }));
    studyLegend.forEach((s, i) => {
      const cy = 997 + i * 27;
      graphic.push({ type: "rect", shape: { x: 928, y: cy - 10.5, width: 36, height: 21 }, style: { fill: studyColors[i], stroke: "#000", lineWidth: 2 } });
      graphic.push(...textLines([s], 975, [cy], { fill: "#000" }));
    });

    chart.setOption({
      animation: false,
      backgroundColor: "#fff",
      grid: grids,
      xAxis,
      yAxis,
      series,
      graphic,
    });
    return () => chart.dispose();
  }, []);
  return <div ref={ref} style={{ position: "absolute", left: 0, top: 0, width: 1341, height: 1317 }} />;
}
